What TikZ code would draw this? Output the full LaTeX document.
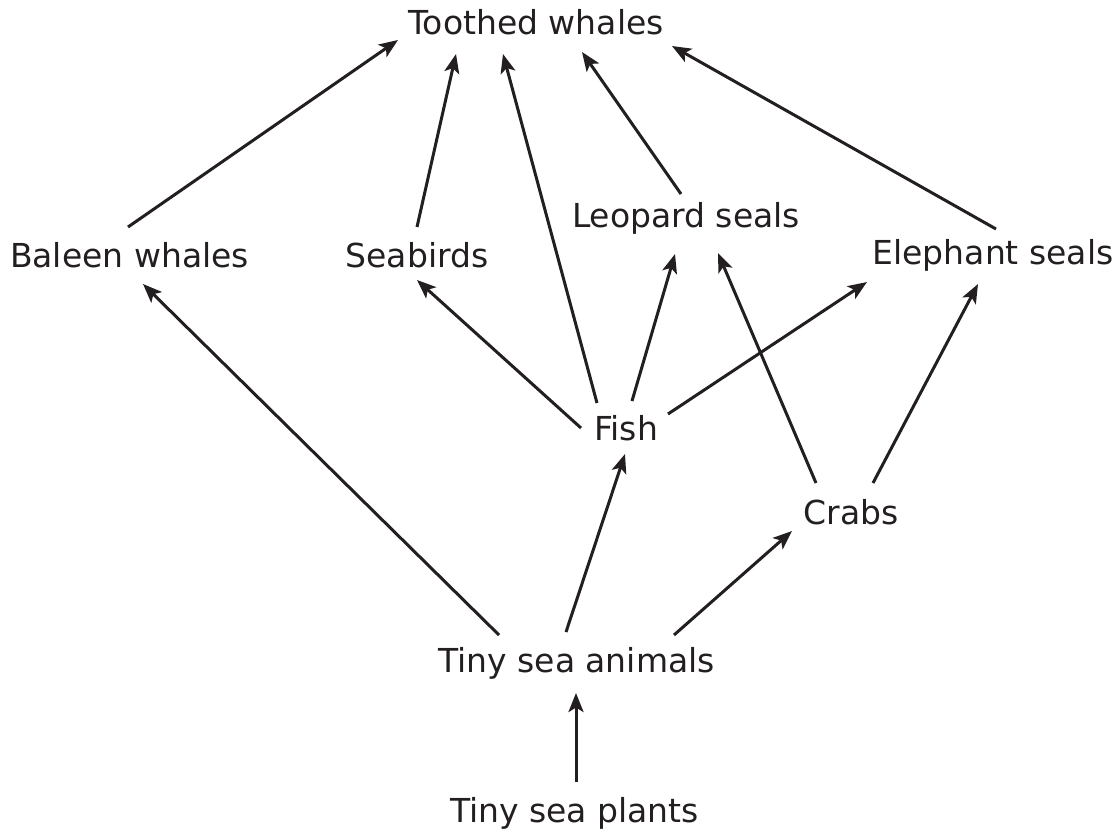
\documentclass[tikz,border=0pt]{standalone}
\usepackage{fontspec}
\setmainfont{DejaVu Sans}
\usepackage{xcolor}
\usepackage{tikz}
\usetikzlibrary{arrows.meta}
\definecolor{inkgray}{RGB}{35,31,32}
\tikzset{
  organism/.style = {anchor=base, inner sep=0pt, text=inkgray, font=\fontsize{33}{40}\selectfont},
  feeds/.style    = {-{Stealth[length=19pt,width=15pt,inset=4.5pt]}, line width=3pt, draw=inkgray},
}

\begin{document}
\begin{tikzpicture}[x=1pt, y=-1pt]
  \useasboundingbox (0,0) rectangle (1120,831);
  \node[organism] (toothed)  at (536,34)    {Toothed whales};
  \node[organism] (baleen)   at (129.5,267) {Baleen whales};
  \node[organism] (seabirds) at (417,267)   {Seabirds};
  \node[organism] (leopard)  at (686,227)   {Leopard seals};
  \node[organism] (elephant) at (993,264)   {Elephant seals};
  \node[organism] (fish)     at (626,440)   {Fish};
  \node[organism] (crabs)    at (851,524)   {Crabs};
  \node[organism] (animals)  at (576.5,672) {Tiny sea animals};
  \node[organism] (plants)   at (574.5,822) {Tiny sea plants};
  \draw[feeds] ([xshift=-1.5pt,yshift=40pt]baleen.base) -- ([xshift=-138pt,yshift=-6pt]toothed.base);
  \draw[feeds] ([yshift=40pt]seabirds.base) -- ([xshift=-80pt,yshift=-20pt]toothed.base);
  \draw[feeds] ([xshift=-29pt,yshift=37pt]fish.base) -- ([xshift=-33pt,yshift=-20pt]toothed.base);
  \draw[feeds] ([xshift=-5pt,yshift=33pt]leopard.base) -- ([xshift=46pt,yshift=-18pt]toothed.base);
  \draw[feeds] ([xshift=3pt,yshift=35pt]elephant.base) -- ([xshift=136pt,yshift=-12pt]toothed.base);
  \draw[feeds] ([xshift=-45pt,yshift=12pt]fish.base) -- ([yshift=-13pt]seabirds.base);
  \draw[feeds] ([xshift=6pt,yshift=39pt]fish.base) -- ([xshift=-11pt,yshift=-27pt]leopard.base);
  \draw[feeds] ([xshift=42pt,yshift=26pt]fish.base) -- ([xshift=-126pt,yshift=-18pt]elephant.base);
  \draw[feeds] ([xshift=-35pt,yshift=41pt]crabs.base) -- ([xshift=32pt,yshift=-26pt]leopard.base);
  \draw[feeds] ([xshift=22pt,yshift=41pt]crabs.base) -- ([xshift=-15pt,yshift=-20pt]elephant.base);
  \draw[feeds] ([xshift=-77.5pt,yshift=37pt]animals.base) -- ([xshift=13.5pt,yshift=-17pt]baleen.base);
  \draw[feeds] ([xshift=-10.5pt,yshift=40pt]animals.base) -- ([xshift=-1pt,yshift=-14pt]fish.base);
  \draw[feeds] ([xshift=97.5pt,yshift=37pt]animals.base) -- ([xshift=-59pt,yshift=-7pt]crabs.base);
  \draw[feeds] ([xshift=1.5pt,yshift=40pt]plants.base) -- ([xshift=-0.5pt,yshift=-21pt]animals.base);
\end{tikzpicture}
\end{document}
